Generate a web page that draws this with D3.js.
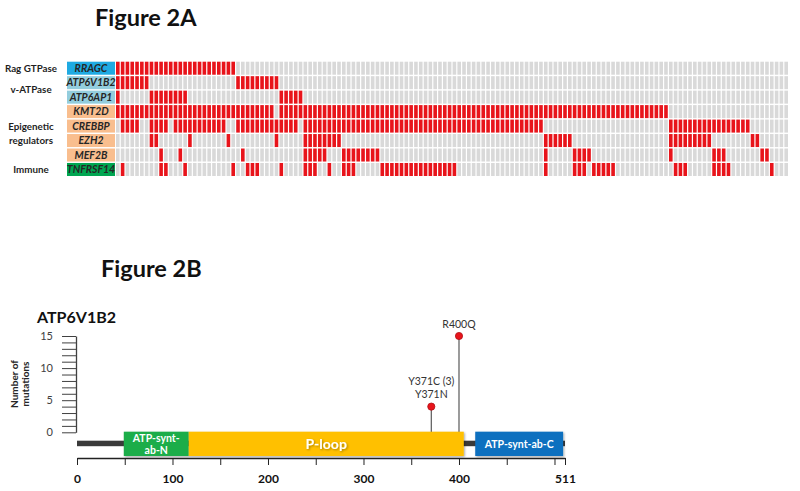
<!DOCTYPE html>
<html><head><meta charset="utf-8">
<script src="https://cdn.jsdelivr.net/npm/d3@7"></script>
<style>
body{margin:0;background:#fff}
svg{display:block;font-family:Lato,"Open Sans","Liberation Sans",sans-serif}
</style>
</head><body>
<svg id="c" width="800" height="491"></svg>
<script>
// ---------------- Figure 2A data ----------------
const sampleCount = 140;
const genes = ["RRAGC","ATP6V1B2","ATP6AP1","KMT2D","CREBBP","EZH2","MEF2B","TNFRSF14"];
const geneBoxColors = ["#1FAAE2","#93CDDD","#93CDDD","#F9BE8E","#F9BE8E","#F9BE8E","#F9BE8E","#00A651"];
const groupLines = [["Rag GTPase"],["v-ATPase"],["Epigenetic","regulators"],["Immune"]];
const groupFirstGene = [0,1,3,7];
const groupLastGene  = [0,2,6,7];
// altered samples per gene, as runs [first, last] of sample (column) index
const altRRAGC    = [[0,24]];
const altATP6V1B2 = [[0,6],[25,33]];
const altATP6AP1  = [[0,0],[7,14],[34,38]];
const altKMT2D    = [[0,32],[34,114]];
const altCREBBP   = [[1,4],[7,10],[12,22],[25,37],[39,88],[115,131]];
const altEZH2     = [[7,8],[15,15],[23,23],[33,33],[39,46],[89,94],[115,123],[132,133]];
const altMEF2B    = [[9,9],[13,13],[26,26],[39,43],[47,54],[89,89],[95,98],[115,115],[124,126],[134,135]];
const altTNFRSF14 = [[1,1],[9,10],[14,14],[24,24],[27,29],[34,34],[39,41],[44,44],[47,49],[55,70],[89,89],[95,97],[99,103],[116,118],[124,127],[136,136]];
const alterationRuns = [altRRAGC,altATP6V1B2,altATP6AP1,altKMT2D,altCREBBP,altEZH2,altMEF2B,altTNFRSF14];

// ---------------- Figure 2B data ----------------
const proteinName = "ATP6V1B2";
const proteinLength = 511;
const domainLabelLines = [["ATP-synt-","ab-N"],["P-loop"],["ATP-synt-ab-C"]];
const domainStart = [49,117,417];
const domainEnd   = [117,405,509];
const domainColors = ["#1EAD49","#FFC000","#0F6FBF"];
const mutPos = [371,400];
const mutCount = [4,15];
const mutLabels = [["Y371C (3)","Y371N"],["R400Q"]];
const xTickValues = [0,50,100,150,200,250,300,350,400,450,500,511];
const xTickLabels = [0,100,200,300,400,511];
const yTickValues = [0,1,2,3,4,5,6,7,8,9,10,11,12,13,14,15];
const yTickLabels = [0,5,10,15];

const RED = "#E8141B", GREY = "#D9D9D9";
const svg = d3.select("#c");

// ---------- Titles ----------
svg.append("text").attr("x",95).attr("y",26).attr("font-size",23.5).attr("font-weight","bold").attr("fill","#111").text("Figure 2A");
svg.append("text").attr("x",101).attr("y",277).attr("font-size",23.5).attr("font-weight","bold").attr("fill","#111").text("Figure 2B");

// ---------- Oncoprint ----------
const xS = d3.scaleBand().domain(d3.range(sampleCount)).range([116,788]).paddingInner(0.25);
const yS = d3.scaleBand().domain(genes).range([61.7,176]).paddingInner(0.1);

genes.forEach((g,gi)=>{
  const altered = new Set();
  alterationRuns[gi].forEach(([a,b])=>{ for(let i=a;i<=b;i++) altered.add(i); });
  svg.append("g").selectAll("rect").data(d3.range(sampleCount)).join("rect")
    .attr("x",d=>xS(d)).attr("y",yS(g)).attr("width",xS.bandwidth()).attr("height",yS.bandwidth())
    .attr("fill",d=>altered.has(d)?RED:GREY);
  svg.append("rect").attr("x",67).attr("y",yS(g)).attr("width",48).attr("height",yS.bandwidth()).attr("fill",geneBoxColors[gi]);
  svg.append("text").attr("x",91).attr("y",yS(g)+yS.bandwidth()/2).attr("dy","0.36em")
    .attr("text-anchor","middle").attr("font-size",10.5).attr("font-style","italic").attr("font-weight","bold")
    .attr("fill","#262626").text(g);
});
groupLines.forEach((lines,i)=>{
  const cy = (yS(genes[groupFirstGene[i]]) + yS(genes[groupLastGene[i]]) + yS.bandwidth())/2;
  const t = svg.append("text").attr("text-anchor","middle").attr("font-size",9.8).attr("font-weight","bold").attr("fill","#1f1f1f");
  lines.forEach((l,j)=>{
    t.append("tspan").attr("x",31).attr("y",cy + (j-(lines.length-1)/2)*14).attr("dy","0.35em").text(l);
  });
});

// ---------- Lollipop plot ----------
const x = d3.scaleLinear().domain([0,proteinLength]).range([77,565]);
const y = d3.scaleLinear().domain([0,15]).range([432.3,336]);

svg.append("text").attr("x",37).attr("y",323).attr("font-size",16).attr("font-weight","bold").attr("fill","#111").text(proteinName);

// y axis
const ya = svg.append("g").attr("transform","translate(76,0)")
  .call(d3.axisLeft(y).tickValues(yTickValues).tickSize(14).tickSizeOuter(0).tickPadding(9)
    .tickFormat(d=>yTickLabels.includes(d)?d:""));
ya.select(".domain").attr("stroke","#404040").attr("stroke-width",1.3);
ya.selectAll(".tick line").attr("stroke","#404040").attr("stroke-width",1);
ya.selectAll(".tick text").attr("font-size",11).attr("fill","#404040").attr("font-family","Lato,sans-serif");

const yt = svg.append("text").attr("transform","translate(0,384) rotate(-90)").attr("text-anchor","middle")
  .attr("font-size",10).attr("font-weight","bold").attr("fill","#262626");
yt.append("tspan").attr("x",0).attr("y",18).text("Number of");
yt.append("tspan").attr("x",0).attr("y",28.5).text("mutations");

// stems
mutPos.forEach((p,i)=>{
  svg.append("line").attr("x1",x(p)).attr("x2",x(p)).attr("y1",y(0)).attr("y2",y(mutCount[i]))
    .attr("stroke","#595959").attr("stroke-width",1.2);
});

// backbone
svg.append("rect").attr("x",x(0)).attr("y",440.7).attr("width",x(proteinLength)-x(0)).attr("height",5.5).attr("fill","#3A3A3A");

// domains
const defs = svg.append("defs");
defs.append("filter").attr("id","sh").attr("x","-20%").attr("y","-20%").attr("width","140%").attr("height","160%")
  .append("feDropShadow").attr("dx",1).attr("dy",1).attr("stdDeviation",0.8).attr("flood-color","#000").attr("flood-opacity",0.35);
domainStart.forEach((s,i)=>{
  svg.append("rect").attr("x",x(s)).attr("y",431.7).attr("width",x(domainEnd[i])-x(s)).attr("height",24.3)
    .attr("fill",domainColors[i]).attr("filter","url(#sh)");
  const lines = domainLabelLines[i];
  const cx = (x(s)+x(domainEnd[i]))/2;
  const big = lines.length===1 && lines[0].length<8;
  const t = svg.append("text").attr("text-anchor","middle").attr("fill","#fff")
    .attr("font-size",big?14:10.5).attr("font-weight","bold").attr("filter",big?"url(#sh)":null);
  lines.forEach((l,j)=>{
    t.append("tspan").attr("x",cx).attr("y",443.8 + (j-(lines.length-1)/2)*12).attr("dy","0.36em").text(l);
  });
});

// dots + labels
mutPos.forEach((p,i)=>{
  svg.append("circle").attr("cx",x(p)).attr("cy",y(mutCount[i])).attr("r",3.6)
    .attr("fill",RED).attr("stroke","#B01016").attr("stroke-width",0.8);
  const lines = mutLabels[i];
  lines.forEach((l,j)=>{
    svg.append("text").attr("x",x(p)).attr("y",y(mutCount[i]) - 8.5 - (lines.length-1-j)*13.5)
      .attr("text-anchor","middle").attr("font-size",10.5).attr("fill","#333").text(l);
  });
});

// x axis
const xa = svg.append("g").attr("transform","translate(0,458)")
  .call(d3.axisBottom(x).tickValues(xTickValues).tickSize(7).tickSizeOuter(0).tickPadding(9)
    .tickFormat(d=>xTickLabels.includes(d)?d:""));
xa.select(".domain").attr("stroke","#222").attr("stroke-width",1.3);
xa.selectAll(".tick line").attr("stroke","#222").attr("stroke-width",1);
xa.selectAll(".tick text").attr("font-size",12).attr("font-weight","bold").attr("fill","#111").attr("font-family","Lato,sans-serif");
</script>
</body></html>
